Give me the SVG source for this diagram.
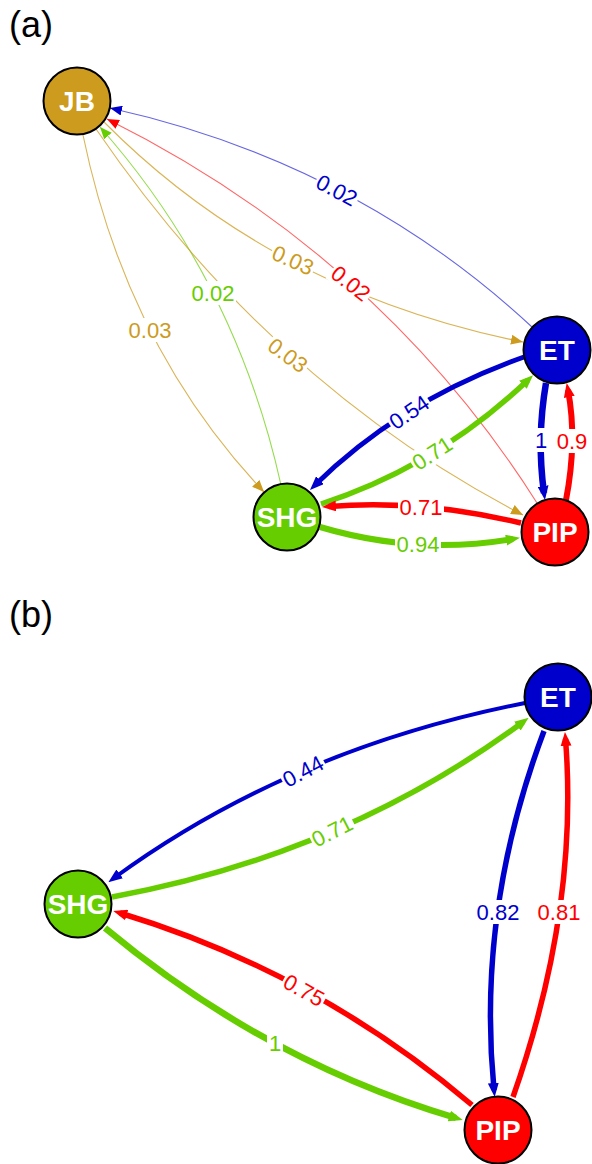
<svg xmlns="http://www.w3.org/2000/svg" width="592" height="1164" viewBox="0 0 592 1164">
<style>
.e{fill:none}
.thin{stroke-width:1.1}
.blue{stroke:#0000CD}
.red{stroke:#FF0000}
.green{stroke:#66CD00}
.gold{stroke:#CD9B1D}
.tblue{stroke:#0000CD;stroke-opacity:0.6}
.tred{stroke:#FF0000;stroke-opacity:0.6}
.tgreen{stroke:#66CD00;stroke-opacity:0.7}
.tgold{stroke:#CD9B1D;stroke-opacity:0.75}
.lbl text{font-family:"Liberation Sans",Arial,sans-serif;font-size:22px;text-anchor:middle}
.lbl rect{fill:#FFFFFF}
.node circle{stroke:#000000;stroke-width:2}
.node text{font-family:"Liberation Sans",Arial,sans-serif;font-size:28px;font-weight:bold;fill:#FFFFFF;text-anchor:middle}
.panel{font-family:"Liberation Sans",Arial,sans-serif;font-size:36px;fill:#000000}
</style>
<defs>
<marker id="tb" markerUnits="userSpaceOnUse" markerWidth="12" markerHeight="10" refX="12" refY="5" orient="auto"><path d="M0,0 L12,5 L0,10 z" fill="#0000CD"/></marker>
<marker id="tr" markerUnits="userSpaceOnUse" markerWidth="12" markerHeight="10" refX="12" refY="5" orient="auto"><path d="M0,0 L12,5 L0,10 z" fill="#FF0000"/></marker>
<marker id="tg" markerUnits="userSpaceOnUse" markerWidth="12" markerHeight="10" refX="12" refY="5" orient="auto"><path d="M0,0 L12,5 L0,10 z" fill="#66CD00"/></marker>
<marker id="ty" markerUnits="userSpaceOnUse" markerWidth="12" markerHeight="10" refX="12" refY="5" orient="auto"><path d="M0,0 L12,5 L0,10 z" fill="#CD9B1D"/></marker>
<marker id="kb" markerUnits="userSpaceOnUse" markerWidth="14" markerHeight="11" refX="7" refY="5.5" orient="auto"><path d="M0,0 L14,5.5 L0,11 z" fill="#0000CD"/></marker>
<marker id="kr" markerUnits="userSpaceOnUse" markerWidth="14" markerHeight="11" refX="7" refY="5.5" orient="auto"><path d="M0,0 L14,5.5 L0,11 z" fill="#FF0000"/></marker>
<marker id="kg" markerUnits="userSpaceOnUse" markerWidth="14" markerHeight="11" refX="7" refY="5.5" orient="auto"><path d="M0,0 L14,5.5 L0,11 z" fill="#66CD00"/></marker>
</defs>
<rect width="592" height="1164" fill="#FFFFFF"/>
<text class="panel" x="9" y="37">(a)</text>
<text class="panel" x="9" y="627">(b)</text>
<g id="connectors">
<path class="e thin tblue" d="M532,327 Q355,162.5 110,108" marker-end="url(#tb)"/>
<path class="e thin tred" d="M537,503 Q380,255 107,119" marker-end="url(#tr)"/>
<path class="e thin tgold" d="M104,122 Q272.5,292 523,342" marker-end="url(#ty)"/>
<path class="e thin tgold" d="M83,135 Q126.5,346.5 264,492" marker-end="url(#ty)"/>
<path class="e thin tgreen" d="M281,485 Q235.5,280 100,127" marker-end="url(#tg)"/>
<path class="e thin tgold" d="M96,129 Q270.5,384 523,515" marker-end="url(#ty)"/>
<path class="e blue" stroke-width="5" d="M524,357 Q401,400.5 315,485" marker-end="url(#kb)"/>
<path class="e green" stroke-width="5.5" d="M321,504 Q437,466.5 528,380" marker-end="url(#kg)"/>
<path class="e blue" stroke-width="6.5" d="M546,383 Q536.5,438.5 544,493" marker-end="url(#kb)"/>
<path class="e red" stroke-width="6" d="M566,500 Q577.5,440.5 568,390" marker-end="url(#kr)"/>
<path class="e red" stroke-width="5.5" d="M521,523 Q420.5,499 329,506.5" marker-end="url(#kr)"/>
<path class="e green" stroke-width="6" d="M320,527 Q416,555.5 513,539" marker-end="url(#kg)"/>
<path class="e blue" stroke-width="4" d="M525,703 Q289.5,749.5 114,878" marker-end="url(#kb)"/>
<path class="e green" stroke-width="5.5" d="M112,897 Q343.5,854.5 523,722" marker-end="url(#kg)"/>
<path class="e blue" stroke-width="5.5" d="M544,731 Q476.5,910 494,1090" marker-end="url(#kb)"/>
<path class="e red" stroke-width="5.5" d="M513,1097 Q579,909.5 565.5,739" marker-end="url(#kr)"/>
<path class="e red" stroke-width="5.5" d="M472,1105 Q315.5,972 120,913" marker-end="url(#kr)"/>
<path class="e green" stroke-width="6.5" d="M105,928 Q266,1062 456,1118" marker-end="url(#kg)"/>
</g>
<g id="labels" class="lbl">
<g transform="translate(337,190) rotate(28)"><rect x="-23" y="-12" width="46" height="24"/><text y="8" fill="#0000CD">0.02</text></g>
<g transform="translate(351,283) rotate(38)"><rect x="-23" y="-12" width="46" height="24"/><text y="8" fill="#FF0000">0.02</text></g>
<g transform="translate(293,260) rotate(24)"><rect x="-23" y="-12" width="46" height="24"/><text y="8" fill="#CD9B1D">0.03</text></g>
<g transform="translate(150,330)"><rect x="-23" y="-12" width="46" height="24"/><text y="8" fill="#CD9B1D">0.03</text></g>
<g transform="translate(213,293)"><rect x="-23" y="-12" width="46" height="24"/><text y="8" fill="#66CD00">0.02</text></g>
<g transform="translate(288,355) rotate(36)"><rect x="-23" y="-12" width="46" height="24"/><text y="8" fill="#CD9B1D">0.03</text></g>
<g transform="translate(409,412) rotate(-34)"><rect x="-23" y="-12" width="46" height="24"/><text y="8" fill="#0000CD">0.54</text></g>
<g transform="translate(432,453) rotate(-33)"><rect x="-23" y="-12" width="46" height="24"/><text y="8" fill="#66CD00">0.71</text></g>
<g transform="translate(541,440)"><rect x="-8" y="-12" width="16" height="24"/><text y="8" fill="#0000CD">1</text></g>
<g transform="translate(572,441)"><rect x="-17" y="-12" width="34" height="24"/><text y="8" fill="#FF0000">0.9</text></g>
<g transform="translate(421,507)"><rect x="-23" y="-12" width="46" height="24"/><text y="8" fill="#FF0000">0.71</text></g>
<g transform="translate(418,544)"><rect x="-23" y="-12" width="46" height="24"/><text y="8" fill="#66CD00">0.94</text></g>
<g transform="translate(303,771) rotate(-28)"><rect x="-23" y="-12" width="46" height="24"/><text y="8" fill="#0000CD">0.44</text></g>
<g transform="translate(332,831) rotate(-27)"><rect x="-23" y="-12" width="46" height="24"/><text y="8" fill="#66CD00">0.71</text></g>
<g transform="translate(498,912)"><rect x="-23" y="-12" width="46" height="24"/><text y="8" fill="#0000CD">0.82</text></g>
<g transform="translate(559,912)"><rect x="-23" y="-12" width="46" height="24"/><text y="8" fill="#FF0000">0.81</text></g>
<g transform="translate(304,990) rotate(29)"><rect x="-23" y="-12" width="46" height="24"/><text y="8" fill="#FF0000">0.75</text></g>
<g transform="translate(275,1043)"><rect x="-8" y="-12" width="16" height="24"/><text y="8" fill="#66CD00">1</text></g>
</g>
<g id="node-a-JB" class="node"><circle cx="77" cy="101" r="33.5" fill="#CD9B1D"/><text x="77" y="111">JB</text></g>
<g id="node-a-ET" class="node"><circle cx="557" cy="350" r="33.5" fill="#0000CD"/><text x="557" y="360">ET</text></g>
<g id="node-a-SHG" class="node"><circle cx="287" cy="517" r="33.5" fill="#66CD00"/><text x="287" y="527">SHG</text></g>
<g id="node-a-PIP" class="node"><circle cx="555" cy="532" r="33.5" fill="#FF0000"/><text x="555" y="542">PIP</text></g>
<g id="node-b-ET" class="node"><circle cx="558" cy="697" r="33.5" fill="#0000CD"/><text x="558" y="707">ET</text></g>
<g id="node-b-SHG" class="node"><circle cx="78" cy="904" r="33.5" fill="#66CD00"/><text x="78" y="914">SHG</text></g>
<g id="node-b-PIP" class="node"><circle cx="498" cy="1130" r="33.5" fill="#FF0000"/><text x="498" y="1140">PIP</text></g>
</svg>
